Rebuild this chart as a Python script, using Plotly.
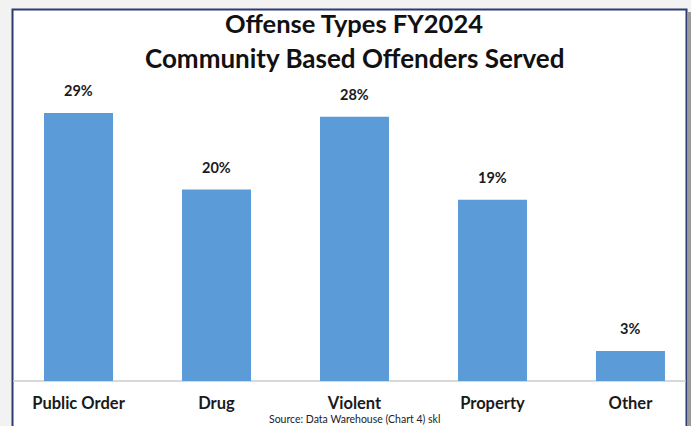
import plotly.graph_objects as go

categories = ["Public Order", "Drug", "Violent", "Property", "Other"]
values = [28.7, 20.5, 28.3, 19.4, 3.2]
labels = ["29%", "20%", "28%", "19%", "3%"]

W, H = 691, 426
L, R, T, B = 20, 11, 60, 45
pw, ph = W - L - R, H - T - B

def px(x):
    return (x - L) / pw

def py(y):
    return (H - B - y) / ph

FONT = "Lato"

fig = go.Figure()
fig.add_trace(go.Bar(
    x=categories, y=values, width=0.5,
    marker=dict(color="#5b9bd8", line=dict(width=0)),
    hoverinfo="skip",
))

annotations = []
for c, v, t in zip(categories, values, labels):
    annotations.append(dict(x=c, y=v, xref="x", yref="y", text=t, showarrow=False,
                            yanchor="bottom", yshift=12,
                            font=dict(family=FONT, size=14.5, color="#1a1a1a", weight="bold")))

annotations += [
    dict(x=px(354), y=py(23), xref="paper", yref="paper", text="Offense Types FY2024",
         showarrow=False, xanchor="center", yanchor="middle",
         font=dict(family=FONT, size=25.5, color="#111111", weight="bold")),
    dict(x=px(354.5), y=py(58), xref="paper", yref="paper", text="Community Based Offenders Served",
         showarrow=False, xanchor="center", yanchor="middle",
         font=dict(family=FONT, size=26, color="#111111", weight="bold")),
    dict(x=px(354), y=py(419), xref="paper", yref="paper", text="Source: Data Warehouse (Chart 4) skl",
         showarrow=False, xanchor="center", yanchor="middle",
         font=dict(family=FONT, size=10.5, color="#222222")),
]

shapes = [
    # white inner area with frame
    dict(type="rect", xref="paper", yref="paper", x0=px(12.5), x1=px(686.5), y0=py(440), y1=py(9.5),
         fillcolor="white", line=dict(color="#2e3a72", width=2), layer="below"),
    # right shadow
    dict(type="rect", xref="paper", yref="paper", x0=px(688), x1=px(691), y0=py(440), y1=py(12),
         fillcolor="#9a9a9a", line=dict(width=0), layer="below"),
    # baseline
    dict(type="line", xref="paper", yref="paper", x0=px(13.5), x1=px(685.5), y0=py(381), y1=py(381),
         line=dict(color="#d9d9d9", width=2), layer="below"),
]

fig.update_layout(
    width=W, height=H,
    margin=dict(l=L, r=R, t=T, b=B),
    paper_bgcolor="#f2f2f2",
    plot_bgcolor="rgba(0,0,0,0)",
    showlegend=False,
    annotations=annotations,
    shapes=shapes,
    bargap=0.5,
)
fig.update_xaxes(range=[-0.424, 4.359], showgrid=False, zeroline=False, showline=False,
                 ticks="", ticklabelstandoff=10,
                 tickfont=dict(family=FONT, size=16.5, color="#1a1a1a", weight="bold"))
fig.update_yaxes(range=[0, ph / (268 / 28.7)], visible=False, showgrid=False, zeroline=False)

fig.write_html("out.html", config={"displayModeBar": False},
               post_script="document.body.style.margin='0';document.body.style.overflow='hidden';")
